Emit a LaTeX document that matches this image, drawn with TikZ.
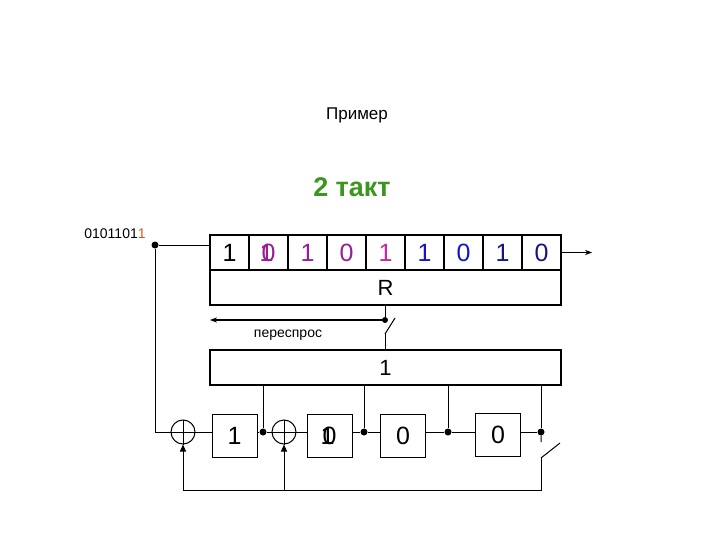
\documentclass[tikz,border=0pt]{standalone}
\usepackage{fontspec}
\setmainfont{Liberation Sans}
\usetikzlibrary{arrows.meta}
\begin{document}
\begin{tikzpicture}[x=1pt,y=-1pt,
 ln/.style={line width=1pt},
 cell/.style={draw,line width=1.5pt,minimum width=39pt,minimum height=35pt,font=\fontsize{25}{25}\selectfont,inner sep=0},
 wide/.style={draw,line width=1.5pt,minimum width=351pt,minimum height=35pt,font=\fontsize{22}{22}\selectfont,inner sep=0},
 reg/.style={draw,line width=1pt,minimum width=45pt,minimum height=43pt,font=\fontsize{25}{25}\selectfont,inner sep=0},
 xr/.style={draw,circle,line width=1pt,minimum size=24pt,inner sep=0},
 dot/.style={circle,fill,inner sep=0,minimum size=7pt},
 tip/.style={-{Triangle[length=7pt,width=6pt]}}]
\useasboundingbox (0,0) rectangle (720,540);
\definecolor{pur}{RGB}{150,30,150}\definecolor{mag}{RGB}{200,40,160}
\definecolor{blu}{RGB}{20,20,200}\definecolor{nav}{RGB}{20,20,130}
\definecolor{grn}{RGB}{60,150,30}\definecolor{org}{RGB}{210,90,30}
\node (title) at (357,115) {\fontsize{17}{17}\selectfont Пример};
\node (takt) at (352,187) [text=grn] {\fontsize{27}{27}\selectfont\bfseries 2 такт};
\node (seq) at (115,234) {\fontsize{14}{14}\selectfont 0101101\textcolor{org}{1}};
\node[dot] (din) at (155,245) {};
\foreach \i/\t/\c in {1/1/black,2/{}/pur,3/1/pur,4/0/pur,5/1/mag,6/1/blu,7/0/blu,8/1/nav,9/0/nav}
  \node[cell,text=\c] (c\i) at ({190.5+39*\i},252.5) {\t};
\node at (c2) [font=\fontsize{25}{25}\selectfont,text=pur] {0};
\node at ([xshift=-2pt]c2.center) [font=\fontsize{25}{25}\selectfont,text=pur] {1};
\node[wide] (R) at (385.5,287.5) {R};
\node[wide] (B) at (385.5,367.5) {1};
\coordinate (rin) at (210,245);
\draw[ln] (din) -- (rin);
\coordinate (out) at (592,252.5);
\draw[ln,-{Stealth[length=7pt]}] (c9.east) -- (out);
\node[dot,minimum size=6pt] (sw) at (385,320) {};
\draw[ln] (385,305) -- (sw);
\coordinate (ask) at (210,320);
\draw[line width=1.5pt,-{Stealth[length=7pt]}] (sw) -- (ask);
\node (pere) at (288,335) {\fontsize{14}{14}\selectfont переспрос};
\coordinate (s1) at (385,334); \coordinate (s2) at (395,318);
\draw[ln] (s1) -- (s2); \draw[ln] (s1) -- (385,350);
\node[xr] (x1) at (183,432) {};
\draw[ln] (x1.north)--(x1.south) (x1.west)--(x1.east);
\node[reg] (r1) at (234.5,435.5) {1};
\node[dot] (d1) at (263,432) {};
\node[xr] (x2) at (284,432) {};
\draw[ln] (x2.north)--(x2.south) (x2.west)--(x2.east);
\node[reg] (r2) at (329.5,435.5) {0};
\node at ([xshift=-2pt]r2.center) [font=\fontsize{25}{25}\selectfont] {1};
\node[dot] (d2) at (364,432) {};
\node[reg] (r3) at (403,435.5) {0};
\node[dot] (d3) at (448,432) {};
\node[reg] (r4) at (498,434.5) {0};
\node[dot] (d4) at (541,432) {};
\draw[ln] (din) |- (x1.west);
\draw[ln] (x1.east) -- (r1.west |- x1) (r1.east |- d1) -- (d1) -- (x2.west);
\draw[ln] (x2.east) -- (r2.west |- x2) (r2.east |- d2) -- (d2) -- (r3.west |- d2) (r3.east |- d3) -- (d3) -- (r4.west |- d3) (r4.east |- d4) -- (d4);
\foreach \d in {d1,d2,d3,d4} \draw[ln] (\d) -- (\d |- B.south);
\coordinate (k1) at (541,442); \coordinate (k2) at (541,458); \coordinate (k3) at (560,443);
\coordinate (fb) at (541,490);
\draw[ln] (d4) -- (k1) (k2) -- (k3);
\draw[ln,tip] (k2) -- (fb) -| (x1.south);
\draw[ln,tip] (x2 |- fb) -- (x2.south);
\end{tikzpicture}
\end{document}
